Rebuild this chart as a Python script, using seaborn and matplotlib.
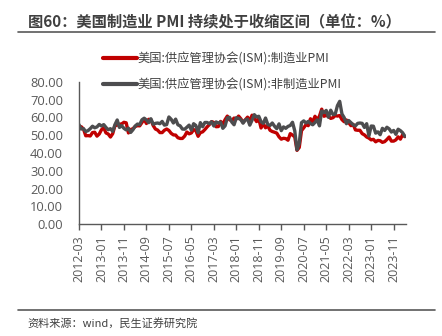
import matplotlib
matplotlib.use("Agg")
import matplotlib.pyplot as plt
import seaborn as sns
import pandas as pd
import numpy as np
from matplotlib.lines import Line2D

months = pd.period_range("2012-03", "2024-04", freq="M").strftime("%Y-%m").tolist()

mfg_pmi = [
    53.4, 54.8, 53.5, 49.7, 49.8, 49.6, 51.5, 51.7, 49.5, 50.7,
    53.1, 54.2, 51.3, 50.7, 49.0, 50.9, 55.4, 55.7, 56.2, 56.4, 57.3, 57.0,
    51.3, 53.2, 53.7, 54.9, 55.4, 55.3, 57.1, 59.0, 56.6, 59.0, 58.7, 55.5,
    53.5, 52.9, 51.5, 51.5, 52.8, 53.5, 52.7, 51.1, 50.2, 50.1, 48.6, 48.2,
    48.2, 49.5, 51.8, 50.8, 51.3, 53.2, 52.6, 49.4, 51.5, 51.9, 53.2, 54.7,
    56.0, 57.7, 57.2, 54.8, 54.9, 57.8, 56.3, 58.8, 60.8, 58.7, 58.2, 59.7,
    59.1, 60.8, 59.3, 57.3, 58.7, 60.2, 58.1, 61.3, 59.8, 57.7, 59.3, 54.1,
    56.6, 54.2, 55.3, 52.8, 52.1, 51.7, 51.2, 49.1, 47.8, 48.3, 48.1, 47.2,
    50.9, 50.1, 49.1, 41.5, 43.1, 52.6, 54.2, 56.0, 55.4, 59.3, 57.5, 60.7,
    58.7, 60.8, 64.7, 60.7, 61.2, 60.6, 59.5, 59.9, 61.1, 60.8, 61.1, 58.8,
    57.6, 58.6, 57.1, 55.4, 56.1, 53.0, 52.8, 52.8, 50.9, 50.2, 49.0, 48.4,
    47.4, 47.7, 46.3, 47.1, 46.9, 46.0, 46.4, 47.6, 49.0, 46.7, 46.7, 47.4,
    49.1, 47.8, 50.3, 49.2,
]

nonmfg_pmi = [
    56.0, 53.5, 53.7, 52.1, 52.6, 53.7, 55.1, 54.2, 54.7, 56.1,
    55.2, 56.0, 54.4, 53.1, 53.7, 52.2, 56.0, 58.6, 54.4, 55.4, 53.9, 53.0,
    54.0, 51.6, 53.1, 55.2, 56.3, 56.0, 58.7, 59.6, 58.6, 57.1, 59.3, 56.2,
    56.7, 56.9, 56.5, 57.8, 55.7, 56.0, 60.3, 59.0, 56.9, 59.1, 55.9, 55.3,
    53.5, 53.4, 54.5, 55.7, 52.9, 56.5, 55.5, 51.4, 57.1, 54.8, 57.2, 57.2,
    56.5, 57.6, 55.2, 57.5, 56.9, 57.4, 53.9, 55.3, 59.8, 60.1, 57.4, 55.9,
    59.9, 59.5, 58.8, 56.8, 58.6, 59.1, 55.7, 58.5, 61.6, 60.3, 60.7, 57.6,
    56.7, 59.7, 56.1, 55.5, 56.9, 55.1, 53.7, 56.4, 52.6, 54.7, 53.9, 55.0,
    55.5, 57.3, 52.5, 41.8, 45.4, 57.1, 58.1, 56.9, 57.8, 56.6, 55.9, 57.2,
    58.7, 55.3, 63.7, 62.7, 64.0, 60.1, 64.1, 61.7, 61.9, 66.7, 69.1, 62.0,
    59.9, 56.5, 58.3, 57.1, 55.9, 55.3, 56.7, 56.9, 56.7, 54.4, 56.5, 49.6,
    55.2, 55.1, 51.2, 51.9, 50.3, 53.9, 52.7, 54.5, 53.6, 51.8, 52.7, 50.5,
    53.4, 52.6, 51.4, 49.4,
]

series_names = ["美国:供应管理协会(ISM):制造业PMI", "美国:供应管理协会(ISM):非制造业PMI"]
yticks = [0, 10, 20, 30, 40, 50, 60, 70, 80]

sns.set_style("white")
plt.rcParams["font.family"] = ["Open Sans", "Noto Sans CJK SC", "DejaVu Sans"]

df = pd.DataFrame({
    "idx": list(range(len(months))) * 2,
    "value": mfg_pmi + nonmfg_pmi,
    "series": [series_names[0]] * len(months) + [series_names[1]] * len(months),
})

W, H = 442, 336
fig = plt.figure(figsize=(W / 100, H / 100), dpi=100)
ax = fig.add_axes([79 / W, 1 - 224 / H, (406 - 79) / W, (224 - 82) / H])

palette = {series_names[0]: "#C00000", series_names[1]: "#4D4D4F"}
sns.lineplot(data=df, x="idx", y="value", hue="series", palette=palette,
             linewidth=2.4, ax=ax, legend=False)

ax.set_ylim(0, 80)
ax.set_xlim(0, len(months) - 0.5)
ax.set_yticks(yticks)
ax.set_yticklabels([f"{v:.2f}" for v in yticks], fontsize=9.3, color="#595959")
tick_pos = list(range(0, len(months), 10))
ax.set_xticks(tick_pos)
ax.set_xticklabels([months[i] for i in tick_pos], rotation=90, fontsize=9.0, color="#595959")
ax.tick_params(axis="x", direction="out", length=4, width=1, color="#595959", pad=4, bottom=True)
ax.tick_params(axis="y", length=0, pad=11.5)
ax.set_xlabel("")
ax.set_ylabel("")
for s in ["top", "right"]:
    ax.spines[s].set_visible(False)
for s in ["left", "bottom"]:
    ax.spines[s].set_color("#595959")
    ax.spines[s].set_linewidth(1)

legend_rows_px = [59, 85]
for name, ypx in zip(series_names, legend_rows_px):
    h = Line2D([], [], color=palette[name], linewidth=3)
    leg = fig.legend([h], [name], loc="center left",
                     bbox_to_anchor=(103 / W, 1 - ypx / H),
                     frameon=False, handlelength=2.75, handletextpad=0.1,
                     borderpad=0, borderaxespad=0,
                     prop={"family": ["Noto Sans CJK SC", "DejaVu Sans"], "size": 8.8})
    for t in leg.get_texts():
        t.set_color("#404040")

fig.text(28 / W, 1 - 22 / H, "图60：美国制造业 PMI 持续处于收缩区间（单位：%）", fontsize=11,
         fontweight="bold", color="#404040", family=["Noto Sans CJK SC", "DejaVu Sans"],
         va="center", ha="left")
fig.add_artist(Line2D([18 / W, 435 / W], [1 - 32 / H, 1 - 32 / H], color="#595959", linewidth=1.2))
fig.add_artist(Line2D([18 / W, 435 / W], [1 - 310 / H, 1 - 310 / H], color="#595959", linewidth=1.2))
fig.text(27 / W, 1 - 323 / H, "资料来源：wind，民生证券研究院", fontsize=8, color="#404040",
         family=["Noto Sans CJK SC", "DejaVu Sans"], va="center", ha="left")

fig.savefig("out.png", dpi=100)
